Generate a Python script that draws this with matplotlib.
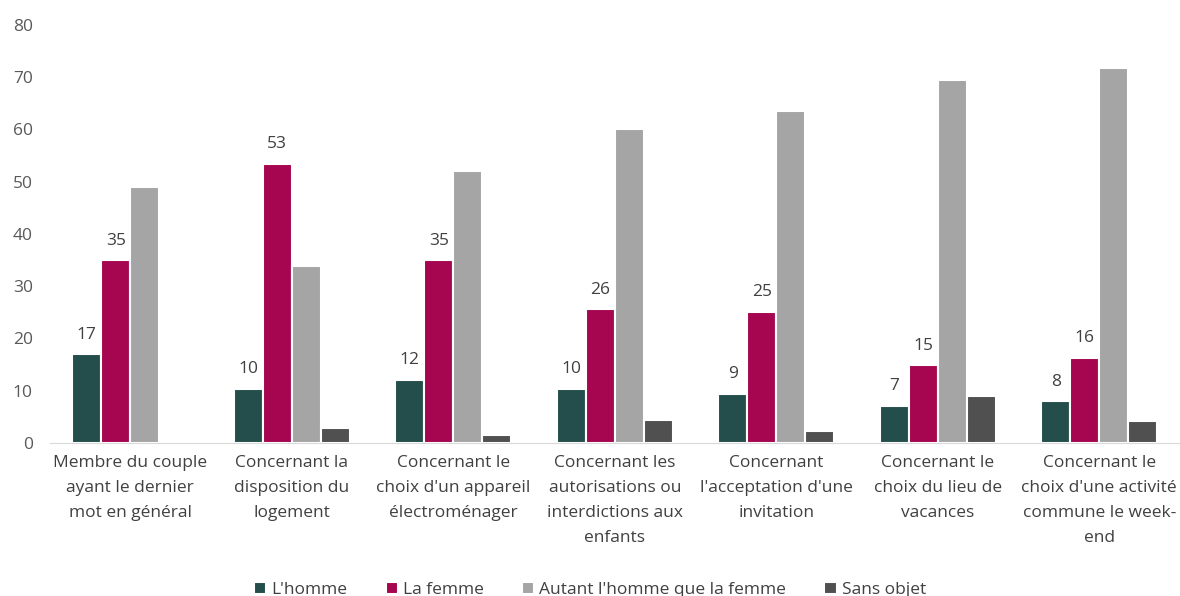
import matplotlib.pyplot as plt
import numpy as np

plt.rcParams['font.family'] = ['Open Sans', 'DejaVu Sans']

categories = [
    "Membre du couple\nayant le dernier\nmot en général",
    "Concernant la\ndisposition du\nlogement",
    "Concernant le\nchoix d'un appareil\nélectroménager",
    "Concernant les\nautorisations ou\ninterdictions aux\nenfants",
    "Concernant\nl'acceptation d'une\ninvitation",
    "Concernant le\nchoix du lieu de\nvacances",
    "Concernant le\nchoix d'une activité\ncommune le week-\nend",
]
homme = [17.0, 10.4, 12.1, 10.4, 9.4, 7.1, 8.0]
femme = [35.0, 53.4, 35.0, 25.6, 25.1, 14.9, 16.3]
autant = [49.0, 33.9, 52.1, 60.1, 63.5, 69.5, 71.8]
sans_objet = [0.0, 2.9, 1.5, 4.4, 2.3, 9.0, 4.2]

series = [
    ("L'homme", homme, '#234e4b', True),
    ("La femme", femme, '#a5064f', True),
    ("Autant l'homme que la femme", autant, '#a5a5a5', False),
    ("Sans objet", sans_objet, '#505050', False),
]

fig = plt.figure(figsize=(11.8, 5.96), dpi=100)
ax = fig.add_axes([0.042, 0.257, 0.958, 0.701])

x = np.arange(len(categories))
w = 0.18
for i, (name, vals, col, lab) in enumerate(series):
    pos = x + (i - 1.5) * w
    bars = ax.bar(pos, vals, width=w, color=col, edgecolor='white', linewidth=1.5, label=name)
    if lab:
        for b, v in zip(bars, vals):
            ax.text(b.get_x() + b.get_width() / 2, v + 2.2, '%.0f' % v,
                    ha='center', va='bottom', fontsize=12.5, color='#404040')

ax.set_xlim(-0.5, len(categories) - 0.5)
ax.set_ylim(0, 80)
ax.set_yticks(range(0, 81, 10))
ax.set_xticks(x)
ax.set_xticklabels(categories, fontsize=12.5, color='#404040', linespacing=1.75)
ax.tick_params(axis='y', labelsize=12.5, labelcolor='#595959', length=0, pad=12)
ax.tick_params(axis='x', length=0, pad=9)
for s in ['top', 'right', 'left']:
    ax.spines[s].set_visible(False)
ax.spines['bottom'].set_color('#d9d9d9')

fig.legend(loc='lower center', bbox_to_anchor=(0.5, -0.03), ncol=4, frameon=False,
           fontsize=12.5, handlelength=0.7, handleheight=0.7, handletextpad=0.3,
           columnspacing=2.2, labelcolor='#404040')

fig.savefig('out.png', dpi=100)
